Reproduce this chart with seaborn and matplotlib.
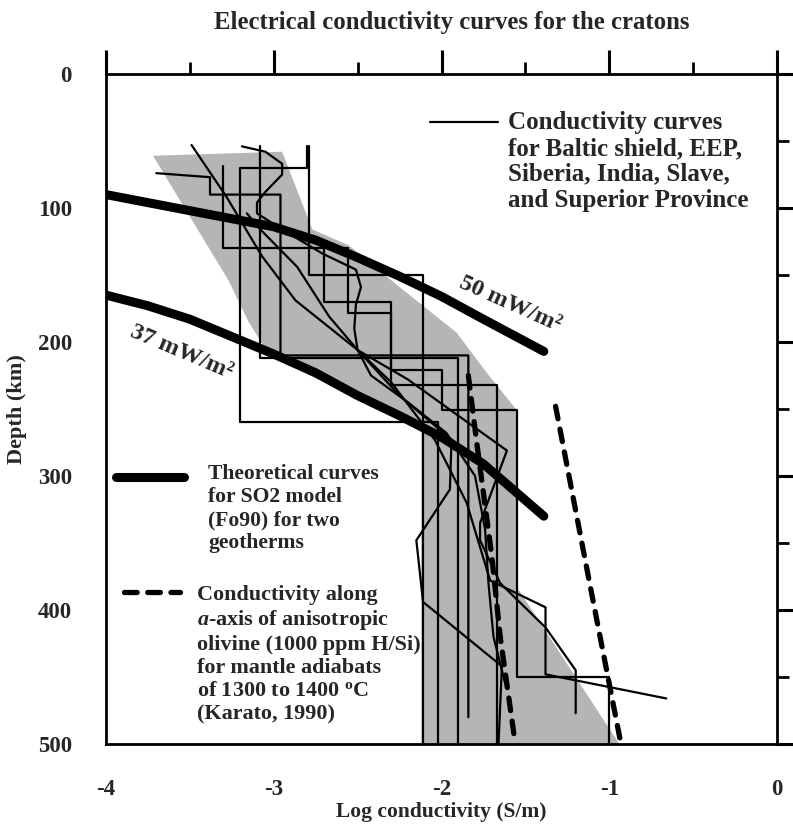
import matplotlib
matplotlib.use("Agg")
import matplotlib.pyplot as plt
import seaborn as sns
import pandas as pd
import numpy as np

# ---------------- data (log conductivity in S/m, depth in km) ----------------
gray_x = [-3.72, -2.95, -2.77, -2.55, -2.25, -1.91, -1.73, -1.55, -1.55, -0.94,
          -2.12, -2.12, -2.50, -2.80, -3.05, -3.15, -3.27]
gray_d = [61, 58, 116, 128, 159, 193, 223, 251, 383, 500,
          500, 262, 242, 224, 205, 185, 154]

c1_x = [-3.70, -3.38, -3.38, -2.96, -2.96, -1.84, -1.84]
c1_d = [74, 77, 90, 90, 210, 210, 480]
c2_x = [-2.80, -2.80, -3.20, -3.20, -2.02, -2.02]
c2_d = [54, 70, 70, 260, 260, 500]
c3_x = [-3.30, -3.30, -2.56, -2.56, -2.30, -2.30, -1.67, -1.67]
c3_d = [69, 130, 130, 178, 178, 232, 232, 500]
c4_x = [-3.08, -3.08, -1.90, -1.90]
c4_d = [54, 212, 212, 500]
c5_x = [-2.79, -2.79, -2.11, -2.11]
c5_d = [54, 150, 150, 500]
c6_x = [-2.70, -2.70, -2.30, -2.30, -2.00, -2.00, -1.55, -1.55, -1.00, -1.00]
c6_d = [131, 170, 170, 221, 221, 251, 251, 450, 450, 500]
c7_x = [-3.19, -3.05, -2.95, -2.95, -3.05, -3.10, -3.10, -2.95, -2.71, -2.51, -2.48,
        -2.51, -2.52, -2.50, -2.42, -2.20, -1.97, -1.80, -1.74, -1.72, -1.69, -1.62]
c7_d = [54, 58, 67, 75, 88, 96, 104, 116, 134, 146, 159,
        172, 190, 206, 225, 245, 268, 300, 340, 380, 420, 455]
c8_x = [-3.49, -3.28, -3.07, -2.87, -2.50, -2.20, -1.90, -1.61, -1.77, -1.77,
        -1.65, -1.38, -1.20, -1.20]
c8_d = [53, 92, 136, 169, 206, 228, 255, 281, 335, 348, 380, 413, 445, 477]
c9_x = [-3.16, -3.08, -2.86, -2.67, -2.50, -2.25, -1.94, -1.95, -2.15, -2.11, -1.64, -1.66]
c9_d = [104, 116, 144, 181, 206, 240, 273, 310, 348, 394, 442, 500]
c10_x = [-2.50, -2.30, -2.04, -1.85, -1.71, -1.38, -1.38, -0.66]
c10_d = [206, 230, 273, 320, 378, 398, 448, 466]

g50_x = [-4.00, -3.75, -3.50, -3.25, -3.00, -2.75, -2.50, -2.25, -2.00, -1.75, -1.39]
g50_d = [90, 96, 102, 108, 114, 124, 137, 151, 166, 183, 207]
g37_x = [-4.00, -3.75, -3.50, -3.25, -3.00, -2.75, -2.50, -2.25, -2.00, -1.75, -1.39]
g37_d = [165, 173, 183, 196, 209, 223, 240, 255, 271, 291, 330]

k1_x = [-1.84, -1.79, -1.70, -1.65, -1.56]
k1_d = [225, 275, 360, 420, 500]
k2_x = [-1.32, -1.12, -0.93]
k2_d = [248, 378, 500]

x_ticks = [-4, -3, -2, -1, 0]
y_ticks = [0, 100, 200, 300, 400, 500]

# ---------------- tables ----------------
thin = [(c1_x, c1_d), (c2_x, c2_d), (c3_x, c3_d), (c4_x, c4_d), (c5_x, c5_d),
        (c6_x, c6_d), (c7_x, c7_d), (c8_x, c8_d), (c9_x, c9_d), (c10_x, c10_d)]
df_thin = pd.concat([pd.DataFrame({"logc": x, "depth": d, "curve": i})
                     for i, (x, d) in enumerate(thin)], ignore_index=True)
df_geo = pd.concat([pd.DataFrame({"logc": g50_x, "depth": g50_d, "curve": "50"}),
                    pd.DataFrame({"logc": g37_x, "depth": g37_d, "curve": "37"})],
                   ignore_index=True)

# ---------------- style ----------------
sns.set_theme(style="white")
plt.rcParams["font.family"] = ["Liberation Serif", "DejaVu Serif"]
plt.rcParams["font.weight"] = "bold"
plt.rcParams["mathtext.fontset"] = "custom"
plt.rcParams["mathtext.rm"] = "Liberation Serif:bold"
plt.rcParams["mathtext.it"] = "Liberation Serif:italic:bold"

W, H = 793, 827
fig = plt.figure(figsize=(W / 100, H / 100), dpi=100)
ax = fig.add_axes([106 / W, 1 - 744 / H, (777 - 106) / W, (744 - 74) / H])

ax.fill(gray_x, gray_d, color="#b5b5b5", lw=0, zorder=1)

sns.lineplot(data=df_thin, x="logc", y="depth", units="curve", estimator=None,
             sort=False, color="black", lw=1.6, ax=ax, zorder=3)
sns.lineplot(data=df_geo, x="logc", y="depth", units="curve", estimator=None,
             sort=False, color="black", lw=6.5, ax=ax, zorder=4,
             solid_capstyle="round")
for kx, kd in [(k1_x, k1_d), (k2_x, k2_d)]:
    ax.plot(kx, kd, color="black", lw=3.8, dashes=(2.4, 2.0),
            dash_capstyle="round", zorder=5)

ax.set_xlim(-4, 0)
ax.set_ylim(500, 0)
ax.set_xticks(x_ticks)
ax.set_xticks(np.arange(-3.5, 0, 1.0), minor=True)
ax.set_yticks(y_ticks)
ax.set_yticks(np.arange(50, 500, 100), minor=True)
ax.set_xticklabels([str(t) for t in x_ticks])
ax.set_yticklabels([str(t) for t in y_ticks])
ax.tick_params(which="both", direction="out", top=True, right=True,
               labeltop=False, labelright=False, color="black", labelsize=16.5)
ax.tick_params(which="major", length=17.5, width=2.2)
ax.tick_params(axis="x", which="major", pad=8)
ax.tick_params(axis="y", which="major", pad=7)
ax.tick_params(which="minor", length=8.5, width=2.0)
for s in ax.spines.values():
    s.set_linewidth(2.0)
    s.set_color("black")
    s.set_visible(True)
for lab in ax.get_xticklabels() + ax.get_yticklabels():
    lab.set_fontweight("bold")

ax.set_xlabel("Log conductivity (S/m)", fontsize=15.5, fontweight="bold", labelpad=1)
ax.set_ylabel("Depth (km)", fontsize=16, fontweight="bold", labelpad=8)
fig.text(452 / W, 1 - 22 / H, "Electrical conductivity curves for the cratons",
         ha="center", va="center", fontsize=17.8, fontweight="bold")

# curve labels
ax.text(0.602, 0.657, "50 mW/m²", transform=ax.transAxes, rotation=-24,
        ha="center", va="center", fontsize=17.5, fontweight="bold", zorder=6)
ax.text(0.113, 0.585, "37 mW/m²", transform=ax.transAxes, rotation=-23,
        ha="center", va="center", fontsize=17.5, fontweight="bold", zorder=6)

# legend-like annotations
def px2ax(px, py):
    return (px - 106) / 671, (744 - py) / 670

a0 = px2ax(430, 122); a1 = px2ax(498, 122)
ax.plot([a0[0], a1[0]], [a0[1], a1[1]], transform=ax.transAxes, color="black",
        lw=1.6, clip_on=False)
t = px2ax(508, 111)
ax.text(t[0], t[1], "Conductivity curves\nfor Baltic shield, EEP,\nSiberia, India, Slave,\nand Superior Province",
        transform=ax.transAxes, ha="left", va="top", fontsize=18,
        fontweight="bold", linespacing=1.16)

a0 = px2ax(116, 477); a1 = px2ax(184, 477)
ax.plot([a0[0], a1[0]], [a0[1], a1[1]], transform=ax.transAxes, color="black",
        lw=6.5, solid_capstyle="round", clip_on=False)
t = px2ax(208, 464)
ax.text(t[0], t[1], "Theoretical curves\nfor SO2 model\n(Fo90) for two\ngeotherms",
        transform=ax.transAxes, ha="left", va="top", fontsize=15.6,
        fontweight="bold", linespacing=1.2)

a0 = px2ax(124, 592); a1 = px2ax(180, 592)
ax.plot([a0[0], a1[0]], [a0[1], a1[1]], transform=ax.transAxes, color="black",
        lw=3.8, dashes=(2.4, 2.0), dash_capstyle="round", clip_on=False)
t = px2ax(197, 585)
ax.text(t[0], t[1],
        "Conductivity along\n$\\mathit{a}$-axis of anisotropic\nolivine (1000 ppm H/Si)\nfor mantle adiabats\nof 1300 to 1400 $^{\\mathrm{o}}$C\n(Karato, 1990)",
        transform=ax.transAxes, ha="left", va="top", fontsize=15.9,
        fontweight="bold", linespacing=1.2)

fig.savefig("out.png", dpi=100)
